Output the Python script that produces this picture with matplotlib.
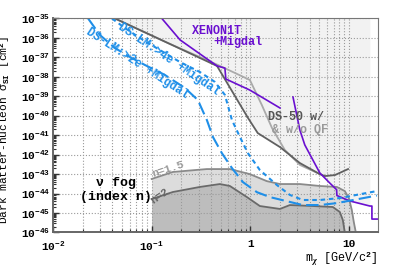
import matplotlib
matplotlib.use("Agg")
import matplotlib.pyplot as plt
import matplotlib.ticker as mticker
import numpy as np

plt.rcParams["font.family"] = ["Liberation Mono", "DejaVu Sans"]
plt.rcParams["font.weight"] = "bold"
plt.rcParams["mathtext.fontset"] = "custom"
plt.rcParams["mathtext.rm"] = "Liberation Mono:bold"
plt.rcParams["mathtext.it"] = "Liberation Serif:italic"
plt.rcParams["mathtext.bf"] = "Liberation Mono:bold"

# ---- data (mass in GeV, log10 cross section in cm^2) ----
ds50_qf_m   = [0.0425, 0.146, 0.46, 0.95, 1.19, 2.0, 3.18, 5.07, 5.7, 7.2, 9.8]
ds50_qf_s   = [-35.0, -36.26, -37.44, -40.12, -40.89, -41.61, -42.43, -43.0, -43.1, -43.05, -42.74]

ds50_noqf_m = [0.0425, 0.146, 0.47, 0.99, 1.31, 1.66, 2.24, 3.19, 5.07]
ds50_noqf_s = [-35.0, -36.26, -37.39, -38.16, -39.45, -40.63, -41.76, -42.53, -43.0]

xe_a_m = [0.127, 0.194, 0.46, 0.553, 0.565, 0.99, 2.0]
xe_a_s = [-35.0, -36.1, -37.44, -37.55, -38.11, -38.68, -39.6]

xe_b_m = [2.71, 3.18, 3.57, 5.07, 6.4, 7.5, 7.55, 10.2, 16.3, 17.1, 17.1, 20.0]
xe_b_s = [-39.04, -40.73, -41.5, -42.94, -43.46, -43.8, -44.1, -44.38, -44.64, -44.64, -45.31, -45.31]

dslm2_m = [0.0227, 0.0299, 0.0425, 0.0603, 0.0855, 0.136, 0.217, 0.294, 0.363, 0.418,
           0.515, 0.652, 0.842, 1.17, 1.58, 2.52, 3.41, 5.07, 7.54, 19.2]
dslm2_s = [-35.0, -35.85, -36.52, -36.98, -37.39, -37.9, -38.57, -39.19, -40.22, -41.09,
           -41.92, -42.69, -43.41, -43.93, -44.18, -44.43, -44.59, -44.59, -44.49, -44.1]

dslm4_m = [0.0396, 0.0536, 0.076, 0.121, 0.194, 0.308, 0.437, 0.553, 0.652, 0.785,
           0.946, 1.25, 1.86, 2.52, 3.41, 5.07, 8.09, 19.2]
dslm4_s = [-35.0, -35.49, -36.0, -36.62, -37.24, -37.75, -38.26, -38.93, -40.22, -41.09,
           -41.92, -42.79, -43.56, -44.07, -44.33, -44.33, -44.23, -43.87]

fog15_m = [0.1, 0.164, 0.363, 0.621, 0.99, 1.47, 2.0, 3.18, 5.07, 7.54, 9.08, 9.98, 10.7, 11.2, 11.75]
fog15_s = [-43.25, -42.89, -42.74, -42.74, -43.0, -43.36, -43.51, -43.51, -43.61, -43.66,
           -43.87, -44.23, -44.85, -45.46, -46.0]

fog2_m = [0.1, 0.164, 0.308, 0.492, 0.621, 0.925, 1.25, 2.0, 2.52, 4.31, 6.87, 8.09, 8.67, 9.08]
fog2_s = [-44.28, -43.92, -43.66, -43.51, -43.61, -44.18, -44.64, -44.79, -44.59, -44.64,
          -44.69, -44.95, -45.36, -46.0]

xlim = (0.01, 19.7)
ylim = (1e-46, 1e-35)

blue = "#1f8fe8"
purple = "#6a0fd0"

fig = plt.figure(figsize=(4.07, 2.68), dpi=100)
ax = fig.add_axes([0.1302, 0.1325, 0.7985, 0.7985])
ax.set_xscale("log")
ax.set_yscale("log")

def cs(v):
    return 10.0 ** np.array(v)

# excluded region (light gray background above the strongest limit)
xg = np.logspace(np.log10(0.0425), np.log10(20.0), 600)
curves = [(ds50_qf_m, ds50_qf_s), (ds50_noqf_m, ds50_noqf_s), (xe_a_m, xe_a_s),
          (xe_b_m[:-3] + [16.3], xe_b_s[:-3] + [-44.64])]
stack = []
for m, s in curves:
    stack.append(np.interp(np.log10(xg), np.log10(m), s, left=np.nan, right=np.nan))
env = np.nanmin(np.array(stack), axis=0)
ax.fill_between(xg, cs(env), 1e-35, color="#f2f2f2", lw=0, zorder=0)

# neutrino fog
ax.fill_between(fog15_m, cs(fog15_s), 1e-46, color="#dcdcdc", lw=0, zorder=0.5)
ax.fill_between(fog2_m, cs(fog2_s), 1e-46, color="#bdbdbd", lw=0, zorder=0.6)
ax.plot(fog15_m, cs(fog15_s), color="#8a8a8a", lw=1.3, zorder=2)
ax.plot(fog2_m, cs(fog2_s), color="#6a6a6a", lw=1.3, zorder=2)

# limits
ax.plot(ds50_noqf_m, cs(ds50_noqf_s), color="#aaaaaa", lw=1.3, zorder=2.1)
ax.plot(ds50_qf_m, cs(ds50_qf_s), color="#606060", lw=1.3, zorder=2.2)
ax.plot(xe_a_m, cs(xe_a_s), color=purple, lw=1.2, zorder=2.3)
ax.plot(xe_b_m, cs(xe_b_s), color=purple, lw=1.2, zorder=2.3)
ax.plot(dslm2_m, cs(dslm2_s), color=blue, lw=1.5, ls=(0, (6, 2.5)), zorder=2.4)
ax.plot(dslm4_m, cs(dslm4_s), color=blue, lw=1.5, ls=(0, (2.2, 1.8)), zorder=2.4)

# labels
ax.text(0.071, 10**-37.29, "DS-LM:>2e +Migdal", color=blue, fontsize=8.5, rotation=-33,
        ha="center", va="center", zorder=3)
ax.text(0.150, 10**-37.08, "DS-LM:>4e +Migdal", color=blue, fontsize=8.5, rotation=-34,
        ha="center", va="center", zorder=3)
ax.text(0.256, 10**-35.64, "XENON1T", color=purple, fontsize=8.5, ha="left", va="center")
ax.text(0.418, 10**-36.21, "+Migdal", color=purple, fontsize=8.5, ha="left", va="center")
ax.text(1.51, 10**-40.06, "DS-50 w/", color="#555555", fontsize=8.5, ha="left", va="center")
ax.text(1.66, 10**-40.73, "& w/o QF", color="#999999", fontsize=8.5, ha="left", va="center")
ax.text(0.0435, 10**-43.83, "ν fog\n(index n)", color="black", fontsize=9.5, ha="center",
        va="center", linespacing=1.25)
ax.text(0.146, 10**-42.74, "n=1.5", color="#999999", fontsize=8, rotation=18, ha="center", va="center")
ax.text(0.121, 10**-44.13, "n=2", color="#666666", fontsize=8, rotation=35, ha="center", va="center")

ax.set_xlim(*xlim)
ax.set_ylim(*ylim)

ax.yaxis.set_major_locator(mticker.LogLocator(base=10, numticks=20))
ax.yaxis.set_minor_locator(mticker.LogLocator(base=10, subs=np.arange(2, 10), numticks=20))
ax.yaxis.set_minor_formatter(mticker.NullFormatter())

def xfmt(v, pos):
    e = int(round(np.log10(v)))
    if e == 0:
        return "1"
    if e == 1:
        return "10"
    return r"$\mathdefault{10^{%d}}$" % e

ax.xaxis.set_major_formatter(mticker.FuncFormatter(xfmt))
ax.xaxis.set_minor_formatter(mticker.NullFormatter())

ax.tick_params(axis="both", which="major", direction="in", labelsize=8, length=4, width=1, color="#333333")
ax.tick_params(axis="both", which="minor", direction="in", length=2.5, width=0.8, color="#333333")
ax.tick_params(axis="x", pad=5)
ax.tick_params(axis="y", pad=2)

ax.grid(True, which="major", color="#9a9a9a", ls=":", lw=0.8)
ax.grid(True, which="minor", axis="x", color="#9a9a9a", ls=":", lw=0.8)

for side in ["left", "bottom"]:
    ax.spines[side].set_color("#666666")
    ax.spines[side].set_linewidth(1.4)
for side in ["top", "right"]:
    ax.spines[side].set_color("#777777")
    ax.spines[side].set_linewidth(0.8)

ax.set_ylabel("Dark matter-nucleon σ$_{\\mathrm{SI}}$ [cm$^{2}$]", fontsize=8)
ax.yaxis.set_label_coords(-0.125, 0.48)
ax.set_xlabel(r"m$_{\chi}$ [GeV/c$^{2}$]", fontsize=8.5)
ax.xaxis.set_label_coords(1.0, -0.08)
ax.xaxis.label.set_ha("right")

fig.savefig("out.png", dpi=100)
